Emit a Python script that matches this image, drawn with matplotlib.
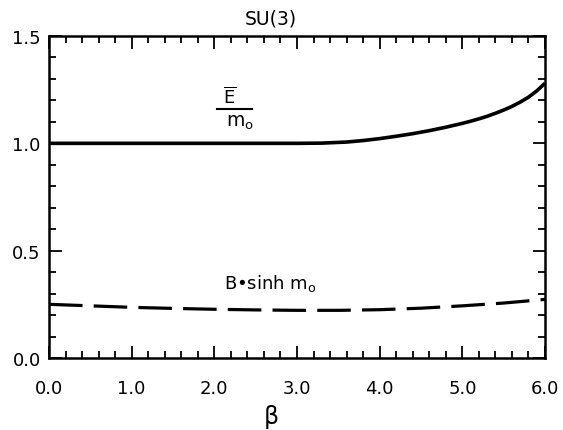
import matplotlib
matplotlib.use("Agg")
import matplotlib.pyplot as plt
from matplotlib.ticker import MultipleLocator

plt.rcParams['font.family'] = ['DejaVu Sans']
plt.rcParams['mathtext.fontset'] = 'dejavusans'

# data
beta_e = [0.0, 0.5, 1.0, 1.5, 2.0, 2.5, 3.0, 3.3, 3.6, 3.8, 4.0, 4.2, 4.4, 4.6, 4.8, 5.0,
          5.1, 5.2, 5.3, 5.4, 5.5, 5.6, 5.7, 5.8, 5.9, 6.0]
e_over_m = [1.0, 1.0, 1.0, 1.0, 1.0, 1.0, 1.0, 1.001, 1.006, 1.013, 1.022, 1.033, 1.045, 1.059, 1.075, 1.093,
            1.103, 1.114, 1.126, 1.140, 1.155, 1.172, 1.192, 1.215, 1.244, 1.28]

beta_b = [0.0, 0.5, 1.0, 1.5, 2.0, 2.5, 3.0, 3.5, 4.0, 4.5, 5.0, 5.5, 6.0]
b_sinh = [0.25, 0.243, 0.236, 0.231, 0.227, 0.224, 0.222, 0.222, 0.225, 0.232, 0.243, 0.256, 0.273]

xticks = [0, 1, 2, 3, 4, 5, 6]
xticklabels = ['0.0', '1.0', '2.0', '3.0', '4.0', '5.0', '6.0']
yticks = [0.0, 0.5, 1.0, 1.5]
yticklabels = ['0.0', '0.5', '1.0', '1.5']

fig = plt.figure(figsize=(5.63, 4.31), dpi=100)
ax = fig.add_axes([49/563, 1-359/431, (545-49)/563, (359-37)/431])

ax.plot(beta_e, e_over_m, color='black', lw=2.6, solid_capstyle='butt', solid_joinstyle='round')
ax.plot(beta_b, b_sinh, color='black', lw=2.3, dashes=(10.5, 3.5))

ax.set_xlim(0, 6)
ax.set_ylim(0, 1.5)
ax.set_xticks(xticks)
ax.set_xticklabels(xticklabels)
ax.set_yticks(yticks)
ax.set_yticklabels(yticklabels)
ax.xaxis.set_minor_locator(MultipleLocator(0.2))
ax.yaxis.set_minor_locator(MultipleLocator(0.1))
ax.tick_params(which='both', direction='in', top=True, right=True, width=1.3, labelsize=13)
ax.tick_params(which='major', length=9)
ax.tick_params(which='minor', length=5)
ax.tick_params(axis='x', which='major', pad=15)
ax.tick_params(axis='y', which='major', pad=6)
for s in ax.spines.values():
    s.set_linewidth(1.8)

ax.set_xlabel('\u03b2', fontsize=17)
ax.xaxis.set_label_coords(0.448, -0.142)
ax.text(0.448, 1.025, 'SU(3)', fontsize=13.5, ha='center', va='bottom', transform=ax.transAxes)

# E-bar over m_o label
ax.text(2.18, 1.22, r'$\overline{\mathrm{E}}$', fontsize=13, ha='center', va='center')
ax.plot([2.03, 2.45], [1.16, 1.16], color='black', lw=1.5)
ax.text(2.31, 1.10, r'm$_\mathrm{o}$', fontsize=13.5, ha='center', va='center')

ax.text(2.68, 0.354, 'B\u2022sinh m$_\\mathrm{o}$', fontsize=13, ha='center', va='center')

fig.savefig('out.png', dpi=100)
